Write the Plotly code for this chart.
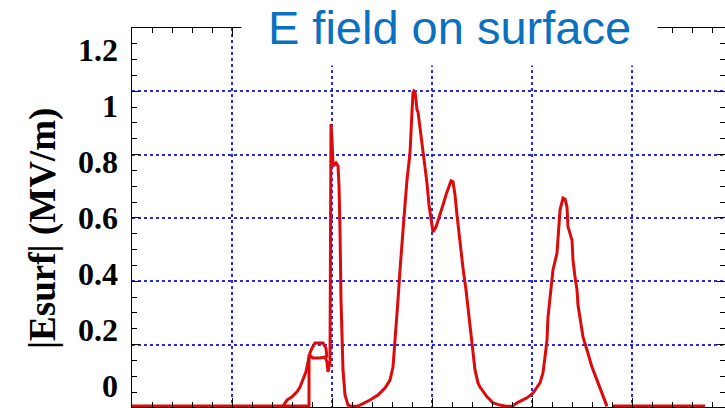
import plotly.graph_objects as go

# Surface field |Esurf| (MV/m) along the surface coordinate (arbitrary units, grid every 10)
# main contour
x_main = [0, 17.7, 17.7, 18.1, 18.8, 19.3, 19.5, 19.6, 19.8, 19.9, 20.0, 20.1, 20.2, 20.4, 20.6,
          20.7, 20.8, 20.9, 21.1, 21.3, 21.6, 22.0, 22.5, 22.8, 23.8, 24.6, 25.3, 25.8, 26.1,
          26.3, 26.5, 26.6, 26.8, 27.0, 27.3, 27.5, 27.6, 27.8, 28.0, 28.1, 28.2, 28.3, 28.4,
          28.5, 28.6, 28.8, 29.0, 29.1, 29.3, 29.5, 29.7, 29.9, 30.1, 30.4, 30.8, 31.1, 31.4,
          31.7, 31.9, 32.1, 32.3, 32.5, 32.8, 33.1, 33.4, 33.7, 34.0, 34.3, 34.6, 34.8, 35.5,
          36.1, 36.8, 37.5, 38.0, 38.5, 39.5, 40.1, 40.8, 41.1, 41.3, 41.5, 41.6, 41.8, 42.0,
          42.1, 42.5, 42.6, 42.8, 43.1, 43.3, 43.5, 43.6, 44.0, 44.1, 44.3, 44.5, 44.6, 44.8,
          45.1, 45.5, 46.0, 46.5, 47.0, 47.3, 47.5]
e_main = [0.006, 0.006, 0.167, 0.158, 0.158, 0.161, 0.145, 0.114, 0.145, 0.897, 0.846, 0.774,
          0.767, 0.774, 0.764, 0.704, 0.562, 0.341, 0.120, 0.041, 0.009, 0.005, 0.005, 0.009,
          0.025, 0.041, 0.063, 0.088, 0.129, 0.205, 0.278, 0.341, 0.436, 0.530, 0.641, 0.720,
          0.752, 0.805, 0.935, 0.995, 1.001, 0.998, 0.973, 0.941, 0.935, 0.887, 0.846, 0.805,
          0.761, 0.710, 0.641, 0.594, 0.556, 0.572, 0.609, 0.641, 0.673, 0.704, 0.717, 0.714,
          0.673, 0.609, 0.515, 0.442, 0.373, 0.294, 0.199, 0.120, 0.079, 0.066, 0.035, 0.016,
          0.009, 0.005, 0.005, 0.016, 0.032, 0.047, 0.079, 0.111, 0.161, 0.215, 0.287, 0.341,
          0.395, 0.436, 0.489, 0.530, 0.625, 0.663, 0.660, 0.635, 0.572, 0.530, 0.467, 0.414,
          0.373, 0.325, 0.278, 0.224, 0.183, 0.129, 0.088, 0.047, 0.016, 0.005]
# branch rising into the small step
x_branch = [15.1, 15.5, 16.0, 16.5, 16.8, 17.1, 17.4, 17.6, 17.8, 18.0, 18.3, 19.1, 19.4, 19.5]
e_branch = [0.005, 0.025, 0.035, 0.051, 0.066, 0.088, 0.114, 0.145, 0.174, 0.189, 0.205, 0.205,
            0.189, 0.158]
# flat tail
x_tail = [48.1, 57.3]
e_tail = [0.006, 0.006]

y_ticks = [0, 0.2, 0.4, 0.6, 0.8, 1.0, 1.2]
y_ticktext = ["0", "0.2", "0.4", "0.6", "0.8", "1", "1.2"]

RED = "#dc0a0a"
GRID = "#2a2ae6"

fig = go.Figure()
for xs, ys in [(x_main, e_main), (x_branch, e_branch), (x_tail, e_tail)]:
    fig.add_trace(go.Scatter(x=xs, y=ys, mode="lines", line=dict(color=RED, width=3),
                             showlegend=False, hoverinfo="skip"))
fig.add_trace(go.Scatter(x=[None], y=[None], yaxis="y2", showlegend=False, hoverinfo="skip"))

axis_common = dict(showgrid=True, gridcolor=GRID, griddash="3px,3px", gridwidth=1.6,
                   zeroline=False, showline=True, linecolor="black", linewidth=1,
                   mirror="ticks", ticks="inside", tickcolor="black",
                   showticklabels=False)

fig.update_layout(
    width=725, height=408,
    margin=dict(l=132, r=0, t=28, b=1),
    paper_bgcolor="white", plot_bgcolor="white",
    xaxis=dict(range=[0, 59.3], tick0=0, dtick=10, ticklen=9,
               minor=dict(dtick=2, ticks="inside", ticklen=5, tickcolor="black", showgrid=False),
               **axis_common),
    yaxis=dict(range=[0.003, 1.2], tick0=0, dtick=0.2, ticklen=8,
               minor=dict(dtick=0.05, ticks="inside", ticklen=5, tickcolor="black", showgrid=False),
               **axis_common),
    yaxis2=dict(overlaying="y", side="left", range=[-0.075, 1.2786],
                tickvals=y_ticks, ticktext=y_ticktext, showgrid=False, zeroline=False,
                showline=False, ticks="", ticklabelstandoff=13,
                tickfont=dict(family="Liberation Serif", size=32, color="black", weight="bold")),
    annotations=[
        dict(text="E field on surface", xref="paper", yref="paper", x=0.5362, y=1.0026,
             xanchor="center", yanchor="middle", showarrow=False, bgcolor="white",
             width=415, height=76, borderpad=0,
             font=dict(family="Liberation Sans", size=47, color="#0a70c0")),
        dict(text="|Esurf| (MV/m)", xref="paper", yref="paper", x=-0.150, y=0.4697,
             xanchor="center", yanchor="middle", showarrow=False, textangle=-90,
             font=dict(family="Liberation Serif", size=37, color="black", weight="bold")),
    ],
)

fig.write_html("out.html")
